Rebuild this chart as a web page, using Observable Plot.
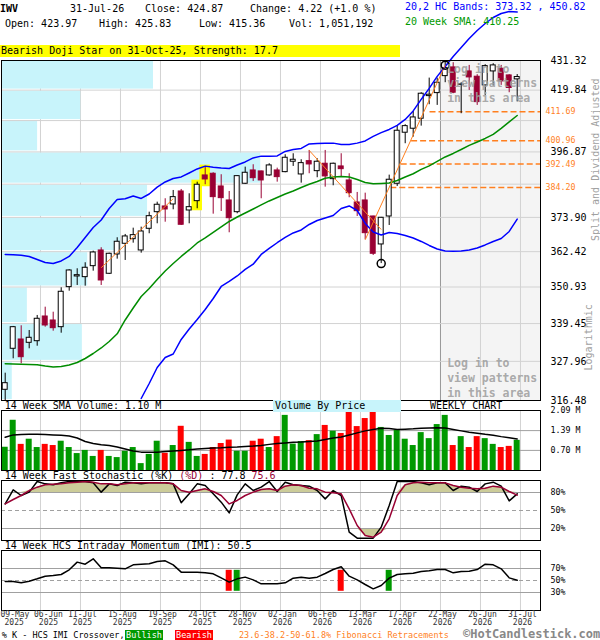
<!DOCTYPE html>
<html><head><meta charset="utf-8">
<script src="https://cdn.jsdelivr.net/npm/d3@7"></script>
<script src="https://cdn.jsdelivr.net/npm/@observablehq/plot@0.6"></script>
<style>
body{margin:0;background:#fff}
#chart{position:relative;width:600px;height:640px;overflow:hidden;font-family:"DejaVu Sans Mono","Liberation Mono",monospace;background:#fff}
#chart svg{position:absolute;left:0;top:0}
.t{position:absolute;white-space:pre;color:#000}
</style></head><body><div id="chart"></div>
<script>
// ---------------- DATA ----------------
const tickIndex = [0,4,9,14,19,24,29,34,39,44,49,54,59,64];
const tickDate = ["09-May","06-Jun","11-Jul","15-Aug","19-Sep","24-Oct","28-Nov","02-Jan","06-Feb","13-Mar","17-Apr","22-May","26-Jun","31-Jul"];
const tickYear = ["2025","2025","2025","2025","2025","2025","2025","2026","2026","2026","2026","2026","2026","2026"];

const open = [
319.58,331.74,334.56,333.55,334.04,341.64,340.40,338.33,350.89,354.32,
354.10,357.66,362.81,355.19,361.49,365.03,366.56,362.81,370.04,375.68,
377.64,378.33,382.83,376.26,379.47,388.46,389.06,384.58,379.71,375.68,
385.53,390.23,389.88,388.46,390.23,389.63,393.34,388.81,393.55,389.98,
392.62,387.15,391.66,386.69,379.02,379.71,374.21,364.80,374.21,385.53,
403.87,405.34,409.05,417.56,418.70,425.23,428.61,421.90,427.05,425.00,
421.65,427.05,428.10,425.50,423.97];
const high = [
324.45,338.55,338.76,337.31,341.96,344.55,342.98,350.69,356.49,356.81,
358.77,362.58,363.71,361.92,367.03,368.14,370.25,370.59,375.68,379.12,
380.30,383.18,383.53,382.03,386.09,391.41,389.41,388.71,382.83,388.30,
391.41,392.26,390.00,392.62,391.05,395.85,396.21,394.05,397.40,394.41,
397.40,392.84,396.21,389.06,382.49,382.24,374.30,373.90,388.57,406.30,
406.82,411.78,418.85,424.46,424.46,431.32,430.45,422.69,429.40,425.78,
429.67,430.06,429.40,425.78,425.83];
const low = [
316.48,328.73,327.24,331.74,332.52,338.33,337.10,336.48,349.61,351.43,
351.20,356.03,351.43,354.97,359.95,359.52,365.23,361.92,368.37,371.73,
372.27,376.50,371.16,371.73,376.85,385.18,375.00,375.92,368.70,375.13,
385.29,386.34,380.30,388.21,386.09,389.41,391.66,385.74,389.06,387.65,
384.34,384.83,387.86,380.65,374.21,366.36,361.16,358.50,371.16,384.58,
399.84,402.25,406.30,414.30,414.04,422.69,418.47,410.92,419.73,414.04,
417.83,421.38,421.65,418.85,415.36];
const close = [
321.51,338.33,329.21,335.08,340.93,338.86,338.02,349.42,356.26,354.74,
357.14,362.15,353.03,361.72,365.70,367.47,367.90,369.14,374.32,378.23,
376.61,380.86,371.40,377.40,385.18,387.04,380.86,380.51,373.63,388.21,
389.41,387.50,386.69,392.02,387.86,394.77,394.05,392.84,392.37,393.34,
388.11,392.62,390.69,382.24,376.02,368.57,361.72,373.77,386.94,404.60,
406.30,409.53,418.47,418.09,422.69,428.34,418.85,422.00,424.73,415.28,
429.12,429.40,423.19,420.65,424.87];
// weekly volume, millions
const volume = [
0.81,1.75,0.91,1.09,0.80,0.91,0.87,1.02,0.80,0.59,
0.70,0.49,0.70,0.49,0.45,0.67,0.80,0.24,0.56,1.02,
0.60,0.87,1.54,0.98,0.49,0.56,0.80,0.94,1.06,0.67,
0.67,1.02,1.09,0.80,1.18,1.92,0.92,1.01,1.04,1.25,
1.57,1.37,1.29,2.07,1.53,1.81,2.07,1.50,1.22,1.40,
1.09,0.87,1.32,1.11,1.60,1.92,0.87,1.18,0.80,1.18,
1.11,0.91,0.80,0.84,1.051192];
const volumeSma = [
1.16,1.24,1.25,1.26,1.26,1.25,1.24,1.23,1.20,1.13,
1.01,0.94,0.90,0.87,0.82,0.75,0.68,0.64,0.64,0.64,
0.66,0.68,0.70,0.72,0.75,0.77,0.78,0.79,0.81,0.82,
0.84,0.85,0.87,0.91,0.94,0.96,0.98,0.99,1.01,1.03,
1.08,1.13,1.17,1.24,1.31,1.38,1.43,1.47,1.46,1.43,
1.44,1.45,1.47,1.48,1.49,1.48,1.43,1.38,1.33,1.30,
1.26,1.23,1.18,1.14,1.10];
const upperBand = [
361.49,361.39,361.26,360.84,359.85,358.87,358.54,359.36,360.84,363.81,
367.13,370.48,373.02,376.95,380.06,380.30,381.27,380.40,381.96,384.34,
386.16,387.40,387.93,389.34,390.77,391.77,391.41,391.12,390.94,392.19,
393.27,394.70,395.35,395.35,395.42,397.04,397.76,398.13,399.76,399.95,
400.06,400.06,399.58,399.58,400.06,400.86,402.51,403.90,405.08,406.56,
408.78,411.96,416.30,420.50,425.12,429.00,432.93,436.45,440.05,443.26,
446.10,448.54,450.18,451.00,450.82];
const lowerBand = [
null,null,null,null,null,null,null,null,null,null,
null,null,null,null,null,null,null,317.06,321.42,326.13,
329.12,330.17,334.56,337.77,340.71,343.83,347.29,351.11,352.71,354.48,
356.59,358.31,361.49,363.47,365.37,367.13,368.64,369.64,371.50,372.85,
373.70,374.56,376.95,377.81,376.26,371.84,368.97,367.97,368.80,368.47,
367.80,366.97,365.80,364.47,363.31,362.65,362.58,362.65,362.98,363.64,
364.64,365.80,366.80,369.14,373.32];
const sma20 = [
327.24,327.18,327.09,327.03,326.97,326.58,326.28,326.43,326.88,327.62,
328.82,330.32,331.98,333.95,336.30,340.56,344.30,347.93,350.47,353.35,
356.10,358.54,360.84,362.98,365.30,366.97,368.80,370.65,372.51,374.04,
375.41,376.78,378.16,379.54,380.75,381.96,383.01,384.23,385.36,386.34,
387.47,387.93,388.11,387.93,387.04,385.99,385.53,385.64,385.81,386.69,
387.93,389.05,390.59,391.84,393.44,395.06,396.32,397.76,399.22,400.49,
401.77,403.24,405.45,407.85,410.25];
const stochK = [
61.0,84.4,75.0,80.6,98.3,94.4,92.8,96.1,98.3,98.3,
98.3,96.1,80.6,94.4,91.7,97.2,96.1,94.4,96.1,96.1,
96.1,94.4,62.8,77.8,94.4,91.7,77.8,63.9,46.1,76.1,
94.4,83.3,88.9,98.3,81.7,97.2,92.8,91.7,90.6,83.3,
69.4,83.3,75.0,13.9,3.9,3.9,3.9,22.2,58.3,98.3,
98.3,98.3,96.1,92.8,96.1,96.1,83.3,90.6,88.9,81.7,
94.4,97.2,90.6,66.1,77.8];
const stochD = [
61.0,68.3,75.0,83.3,88.9,92.8,93.9,94.4,96.1,97.2,
98.3,97.2,94.4,94.4,92.8,94.4,96.1,96.1,96.1,96.1,
96.1,94.4,83.3,80.6,83.3,86.1,81.7,75.0,61.0,66.7,
75.0,80.6,85.0,86.1,83.3,90.6,92.8,91.7,87.2,86.1,
80.6,79.4,77.8,52.8,25.0,8.3,5.6,13.9,36.1,75.0,
92.8,96.1,97.2,96.1,96.1,96.1,91.7,88.9,87.2,86.1,
87.2,90.6,88.9,81.7,75.6];
const imi = [
48.3,48.3,46.1,48.9,52.8,57.2,58.3,60.0,67.8,80.6,
77.2,86.1,71.1,71.1,70.6,69.4,76.1,77.2,77.8,81.7,
82.8,76.1,63.9,63.9,63.9,62.8,61.1,54.4,47.2,52.8,
55.6,51.1,44.4,44.4,44.4,46.1,53.9,55.6,53.9,55.6,
61.7,68.3,73.0,57.2,51.1,43.3,36.1,41.7,53.9,60.0,
61.1,62.2,65.0,66.1,68.3,68.3,62.8,65.0,65.6,68.3,
77.2,76.1,69.4,54.4,50.5];

const priceGrid = [316.48,327.96,339.45,350.93,362.42,373.90,385.38,396.87,408.36,419.84,431.32];
const priceLabels = [316.48,327.96,339.45,350.93,362.42,373.90,396.87,419.84,431.32];
// volume-by-price: share of panel width per price band (bottom to top)
const vbpShare = [0.020,0.150,0.048,0.160,0.221,0.271,0.481,0.067,0.147,0.282];

const fibLevels = [411.69,400.96,392.49,384.20];
const fibStart = [53.1,50.8,49.5,48.2];
const trendFrom = [12,38,45], trendFromPrice = [357.14,397.40,366.36];
const trendTo = [21,47,55], trendToPrice = [380.30,369.80,429.50];
const swingIndex = [47,55], swingPrice = [358.50,429.50];
const patternCandles = [24,25];
const patternAreaStart = 54;
const crossIndex = [28,29,42,48];
const crossType = ["Bearish","Bullish","Bearish","Bullish"];
const volLabels = [0.70,1.39,2.09];
const stochLevels = [80,50,20];
const imiLevels = [70,50,30];

// ---------------- STYLE ----------------
const MAROON="#990033", UP="#009900", DOWN="#ff0000", ORANGE="#ff7f1e", BLUE="#0000ff",
      SMAG="#008c00", GRID="#d2d2d2", GRID2="#a0a0a0", KHAKI="#cccc99", CYAN="#c8f4fb";
const FONT='"DejaVu Sans Mono","Liberation Mono",monospace';
const X_DOMAIN=[-0.4625,66.9125];
const GRID_OFFSET=0.41;

const candles = open.map((o,i)=>({i,open:o,high:high[i],low:low[i],close:close[i],volume:volume[i],up:close[i]>=o}));
const series = (arr)=>arr.map((v,i)=>({i,v}));
const gridTicks = tickIndex.slice(1);
const ticks = tickIndex.map((i,k)=>({i,date:tickDate[k],year:tickYear[k]}));
const vbp = vbpShare.map((s,k)=>({lo:priceGrid[k],hi:priceGrid[k+1],s}));
const fibs = fibLevels.map((l,k)=>({level:l,start:fibStart[k]}));
const trends = trendFrom.map((f,k)=>({x1:f,y1:trendFromPrice[k],x2:trendTo[k],y2:trendToPrice[k]}));
const swings = swingIndex.map((i,k)=>({i,p:swingPrice[k]}));
const pattern = candles.filter(d=>patternCandles.includes(d.i));
const crosses = crossIndex.map((i,k)=>({i,type:crossType[k]}));
const stoch = stochK.map((k,i)=>({i,k,d:stochD[i]}));

const chart=document.getElementById("chart");
function layer(top,bottom,y,marks,x){
  const svg=Plot.plot({
    width:600,height:640,marginLeft:1,marginRight:60,marginTop:top,marginBottom:640-bottom,
    x:x||{domain:X_DOMAIN,axis:null},
    y:Object.assign({axis:null},y),
    color:{type:"identity"},
    style:{background:"transparent",fontFamily:FONT,fontSize:"10px",overflow:"visible"},
    marks
  });
  chart.appendChild(svg);
}
const priceY={type:"log",domain:[priceGrid[0],priceGrid[priceGrid.length-1]]};

// Main: background layer
layer(60,400,priceY,[
  Plot.rect([patternAreaStart],{x1:d=>d+GRID_OFFSET,x2:X_DOMAIN[1],y1:priceGrid[0],y2:priceGrid[10],fill:"#f4f4f4"}),
  Plot.ruleX(gridTicks,{x:d=>d+GRID_OFFSET,stroke:GRID}),
  Plot.ruleX([patternAreaStart],{x:d=>d+GRID_OFFSET,stroke:"#999"})
]);
// Main: volume by price + horizontal grid
layer(60,400,priceY,[
  Plot.rect(vbp,{x1:0,x2:"s",y1:"lo",y2:"hi",fill:CYAN,insetTop:1,insetBottom:1}),
  Plot.ruleY(priceGrid.slice(1,-1),{stroke:GRID})
],{domain:[0,1],axis:null});
// Main: content
layer(60,400,priceY,[
  Plot.rect(pattern,{x1:d=>d.i-0.66,x2:d=>d.i+0.66,y1:"low",y2:"high",fill:"#ffff00",insetTop:-2,insetBottom:-2}),
  Plot.ruleY(fibs,{y:"level",x1:"start",x2:X_DOMAIN[1],stroke:ORANGE,strokeWidth:1.5,strokeDasharray:"6,3"}),
  Plot.ruleX(candles,{x:"i",y1:"low",y2:"high",stroke:d=>d.up?"#000":MAROON}),
  Plot.rect(candles,{x1:d=>d.i-0.31,x2:d=>d.i+0.31,y1:"open",y2:"close",fill:d=>d.up?"#fff":MAROON,stroke:d=>d.up?"#000":MAROON}),
  Plot.line(series(sma20),{x:"i",y:"v",stroke:SMAG}),
  Plot.line(series(upperBand),{x:"i",y:"v",stroke:BLUE}),
  Plot.line(series(lowerBand),{x:"i",y:"v",stroke:BLUE}),
  Plot.link(trends,{x1:"x1",y1:"y1",x2:"x2",y2:"y2",stroke:ORANGE,strokeWidth:1}),
  Plot.dot(swings,{x:"i",y:"p",r:4,stroke:"#000",fill:"none"}),
  Plot.text(["Log in to\nview patterns\nin this area"],{x:patternAreaStart,dx:10,frameAnchor:"top",dy:2,lineAnchor:"top",textAnchor:"start",fontSize:11.5,fontWeight:"bold",fill:"#a0a0a0",fillOpacity:0.9,lineHeight:1.27}),
  Plot.text(["Log in to\nview patterns\nin this area"],{x:patternAreaStart,dx:10,frameAnchor:"bottom",dy:-4,lineAnchor:"bottom",textAnchor:"start",fontSize:11.5,fontWeight:"bold",fill:"#a0a0a0",fillOpacity:0.9,lineHeight:1.27}),
  Plot.frame({stroke:"#000"}),
  Plot.text(priceLabels,{y:d=>d,text:d=>d.toFixed(2),frameAnchor:"right",dx:10,textAnchor:"start",fontSize:10,fill:"#000"}),
  Plot.text(fibs,{y:"level",text:d=>d.level.toFixed(2),frameAnchor:"right",dx:5,textAnchor:"start",fontSize:8.3,fill:ORANGE}),
  Plot.text(["Split and Dividend Adjusted"],{frameAnchor:"top-right",dx:51,dy:18,rotate:-90,textAnchor:"end",fill:"#a0a0a0",fontSize:10}),
  Plot.text(["Logarithmic"],{frameAnchor:"bottom-right",dx:51,dy:-30,rotate:-90,textAnchor:"start",fill:"#a0a0a0",fontSize:10})
]);
// Volume panel
layer(410,470,{domain:[0,volLabels[2]]},[
  Plot.ruleX(gridTicks,{x:d=>d+GRID_OFFSET,stroke:GRID}),
  Plot.ruleY(volLabels.slice(0,2),{stroke:GRID2}),
  Plot.rect(candles,{x1:d=>d.i-0.375,x2:d=>d.i+0.375,y1:0,y2:"volume",fill:d=>d.up?UP:DOWN}),
  Plot.line(series(volumeSma),{x:"i",y:"v",stroke:"#000"}),
  Plot.frame({stroke:"#000"}),
  Plot.text(volLabels,{y:d=>d,text:d=>d.toFixed(2)+" M",frameAnchor:"right",dx:10,textAnchor:"start",fontSize:8.3,fill:"#000"})
]);
// Stochastic panel
layer(480,540,{domain:[0,100]},[
  Plot.ruleX(gridTicks,{x:d=>d+GRID_OFFSET,stroke:GRID}),
  Plot.areaY(stoch,{x:"i",y1:80,y2:d=>Math.max(80,d.d),fill:KHAKI}),
  Plot.areaY(stoch,{x:"i",y1:d=>Math.min(20,d.d),y2:20,fill:KHAKI}),
  Plot.ruleY([80,20],{stroke:GRID2,strokeWidth:1.2}),
  Plot.ruleY([50],{stroke:GRID2,strokeDasharray:"4,3",strokeWidth:1.2}),
  Plot.line(stoch,{x:"i",y:"k",stroke:"#000"}),
  Plot.line(stoch,{x:"i",y:"d",stroke:MAROON}),
  Plot.frame({stroke:"#000"}),
  Plot.text(stochLevels,{y:d=>d,text:d=>d+"%",frameAnchor:"right",dx:10,textAnchor:"start",fontSize:8.3,fill:"#000"})
]);
// IMI panel + x axis labels
layer(550,610,{domain:[0,100]},[
  Plot.ruleX(gridTicks,{x:d=>d+GRID_OFFSET,stroke:GRID}),
  Plot.ruleY([70,30],{stroke:GRID2,strokeWidth:1.2}),
  Plot.ruleY([50],{stroke:GRID2,strokeDasharray:"4,3",strokeWidth:1.2}),
  Plot.rect(crosses,{x1:d=>d.i-0.375,x2:d=>d.i+0.375,y1:32,y2:67,fill:d=>d.type==="Bullish"?UP:DOWN}),
  Plot.line(series(imi),{x:"i",y:"v",stroke:"#000"}),
  Plot.frame({stroke:"#000"}),
  Plot.text(imiLevels,{y:d=>d,text:d=>d+"%",frameAnchor:"right",dx:10,textAnchor:"start",fontSize:8.3,fill:"#000"}),
  Plot.text(ticks.slice(0,1),{frameAnchor:"bottom-left",dx:-1,dy:6,textAnchor:"start",text:"date",fontSize:8,fill:"#333"}),
  Plot.text(ticks.slice(0,1),{frameAnchor:"bottom-left",dx:3,dy:14,textAnchor:"start",text:"year",fontSize:8,fill:"#333"}),
  Plot.text(ticks.slice(1,2),{x:d=>d.i+GRID_OFFSET,frameAnchor:"bottom",dx:8,dy:6,text:"date",fontSize:8,fill:"#333"}),
  Plot.text(ticks.slice(1,2),{x:d=>d.i+GRID_OFFSET,frameAnchor:"bottom",dx:8,dy:14,text:"year",fontSize:8,fill:"#333"}),
  Plot.text(ticks.slice(2),{x:d=>d.i+GRID_OFFSET,frameAnchor:"bottom",dx:2,dy:6,text:"date",fontSize:8,fill:"#333"}),
  Plot.text(ticks.slice(2),{x:d=>d.i+GRID_OFFSET,frameAnchor:"bottom",dx:2,dy:14,text:"year",fontSize:8,fill:"#333"})
]);

// ---------------- HTML TEXT ----------------
function txt(x,yc,html,fs=10,extra={}){
  const el=document.createElement("div");
  el.className="t";
  el.innerHTML=html;
  Object.assign(el.style,{left:x+"px",top:(yc-fs*0.6)+"px",fontSize:fs+"px",lineHeight:(fs*1.2)+"px"},extra);
  chart.appendChild(el);
  return el;
}
const n=close.length-1;
const chg=close[n]-close[n-1];
txt(0,9.3,"IWV",10,{fontWeight:"bold"});
txt(70,9.3,"31-Jul-26");
txt(145,9.3,"Close: "+close[n].toFixed(2));
txt(250,9.3,"Change: "+chg.toFixed(2)+" (+"+(chg/close[n-1]*100).toFixed(1)+" %)");
txt(5,24,"Open: "+open[n].toFixed(2));
txt(99,24,"High: "+high[n].toFixed(2));
txt(199,24,"Low: "+low[n].toFixed(2));
txt(289,24,"Vol: "+d3.format(",")(Math.round(volume[n]*1e6)));
txt(405,6.7,"20,2 HC Bands: "+lowerBand[n].toFixed(2)+" , "+upperBand[n].toFixed(2),10,{color:BLUE});
txt(405,22.3,"20 Week SMA: "+sma20[n].toFixed(2),10,{color:UP});
txt(0,51,"Bearish Doji Star on 31-Oct-25, Strength: 17.7",10,{background:"#ffff00",width:"399px",paddingLeft:"1px",height:"12px"});

txt(273,405.5,"Volume By Price",10,{background:CYAN,width:"126px",paddingLeft:"2px"});
txt(4.7,405.5,"14 Week SMA Volume: "+volumeSma[n].toFixed(2)+" M");
txt(430,405.5,"WEEKLY CHART");
txt(4.7,476,"14 Week Fast Stochastic (%K) <span style='color:"+MAROON+"'>(%D)</span> : "+stochK[n].toFixed(1)+" <span style='color:"+MAROON+"'>"+stochD[n].toFixed(1)+"</span>");
txt(4.7,546,"14 Week HCS Intraday Momentum (IMI): "+imi[n].toFixed(1));

txt(1.7,635,"% K - HCS IMI Crossover,",8.5);
txt(125,635,"Bullish",8.5,{background:UP,color:"#fff",width:"38px",textAlign:"center",height:"10px"});
txt(175,635,"Bearish",8.5,{background:DOWN,color:"#fff",width:"38px",textAlign:"center",height:"10px"});
txt(239,635,"23.6-38.2-50-61.8% Fibonacci Retracements",8.5,{color:ORANGE});
txt(463,634.5,"©HotCandlestick.com",12,{color:"#888",fontWeight:"bold"});
</script></body></html>
